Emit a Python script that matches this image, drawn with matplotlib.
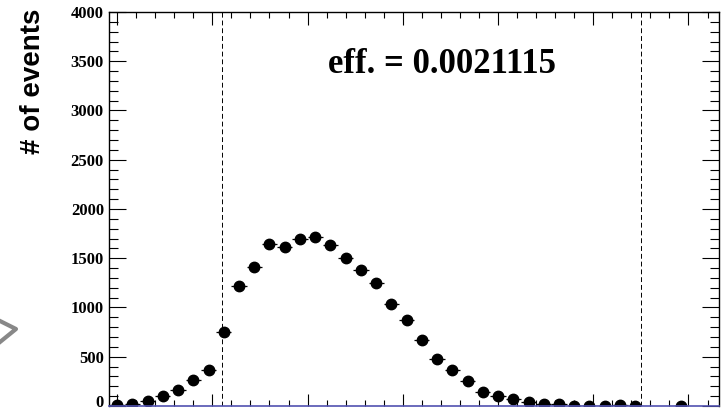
# coding: utf-8

import numpy as np
import matplotlib
matplotlib.use('Agg')
from matplotlib import pyplot as plt
from matplotlib import transforms
from matplotlib.lines import Line2D
from matplotlib.ticker import MultipleLocator


## histogram contents, 40 bins of width 0.08 starting at -0.04
BIN_WIDTH = 0.08
X_LOW = -0.04
counts = [10, 25, 55, 105, 165, 264, 365, 754, 1218, 1408,
          1647, 1614, 1692, 1712, 1634, 1499, 1383, 1248, 1038, 873,
          667, 480, 365, 257, 145, 98, 74, 38, 20, 17,
          4, 3, 3, 7, 3, 0, 0, 3, 0, 0]

cuts = [0.55, 2.75]          # selection window
eff_text = 'eff. = 0.0021115'
y_ticks = [0, 500, 1000, 1500, 2000, 2500, 3000, 3500, 4000]

counts = np.array(counts, dtype=float)
centers = X_LOW + BIN_WIDTH * (np.arange(len(counts)) + 0.5)
filled = counts > 0          # empty bins are not drawn

fig = plt.figure(figsize=(7.28, 4.11), dpi=100)
ax = fig.add_axes([0.1504, 0.0122, 0.8372, 0.9586])

ax.errorbar(centers[filled], counts[filled],
            xerr=BIN_WIDTH / 2, yerr=np.sqrt(counts[filled]),
            fmt='o', color='black', ms=7.5, elinewidth=0.9, capsize=0)

for c in cuts:
    ax.axvline(c, color='black', lw=0.7, ls=(0, (5, 3)))

ax.text(0.545, 0.866, eff_text, transform=ax.transAxes,
        ha='center', va='center', fontsize=25, fontweight='bold',
        family='Liberation Serif')

ax.set_xlim(X_LOW, X_LOW + BIN_WIDTH * len(counts))
ax.set_ylim(0, 4000)

ax.xaxis.set_major_locator(MultipleLocator(0.5))
ax.xaxis.set_minor_locator(MultipleLocator(0.1))
ax.set_yticks(y_ticks)
ax.yaxis.set_minor_locator(MultipleLocator(100))

ax.tick_params(axis='x', which='both', direction='in', top=True,
               labelbottom=False, width=0.8)
ax.tick_params(axis='x', which='major', length=9)
ax.tick_params(axis='x', which='minor', length=4.5)
ax.tick_params(axis='y', which='both', direction='in', right=True, width=0.8)
ax.tick_params(axis='y', which='major', length=12.5, pad=4)
ax.tick_params(axis='y', which='minor', length=6.5)

for lab in ax.get_yticklabels():
    lab.set_family('Liberation Serif')
    lab.set_fontweight('bold')
    lab.set_fontsize(12)

# lift the "0" label so it stays inside the canvas
zero_lab = ax.get_yticklabels()[0]
zero_lab.set_transform(zero_lab.get_transform() +
                       transforms.ScaledTranslation(0, 5 / 100, fig.dpi_scale_trans))

for side in ['left', 'top', 'right']:
    ax.spines[side].set_linewidth(1.0)
ax.spines['bottom'].set_color('#5252b0')
ax.spines['bottom'].set_linewidth(1.2)

fig.text(33 / 728, 1 - 81 / 411, '# of events', rotation=90,
         ha='center', va='center', fontsize=20, fontweight='bold',
         family='Liberation Sans')

# arrow head poking in from the left edge
fig.add_artist(Line2D([0 / 728, 16 / 728, 0 / 728],
                      [1 - 321 / 411, 1 - 329 / 411, 1 - 342 / 411],
                      color='#888888', lw=3, transform=fig.transFigure))

fig.savefig('out.png', dpi=100)
